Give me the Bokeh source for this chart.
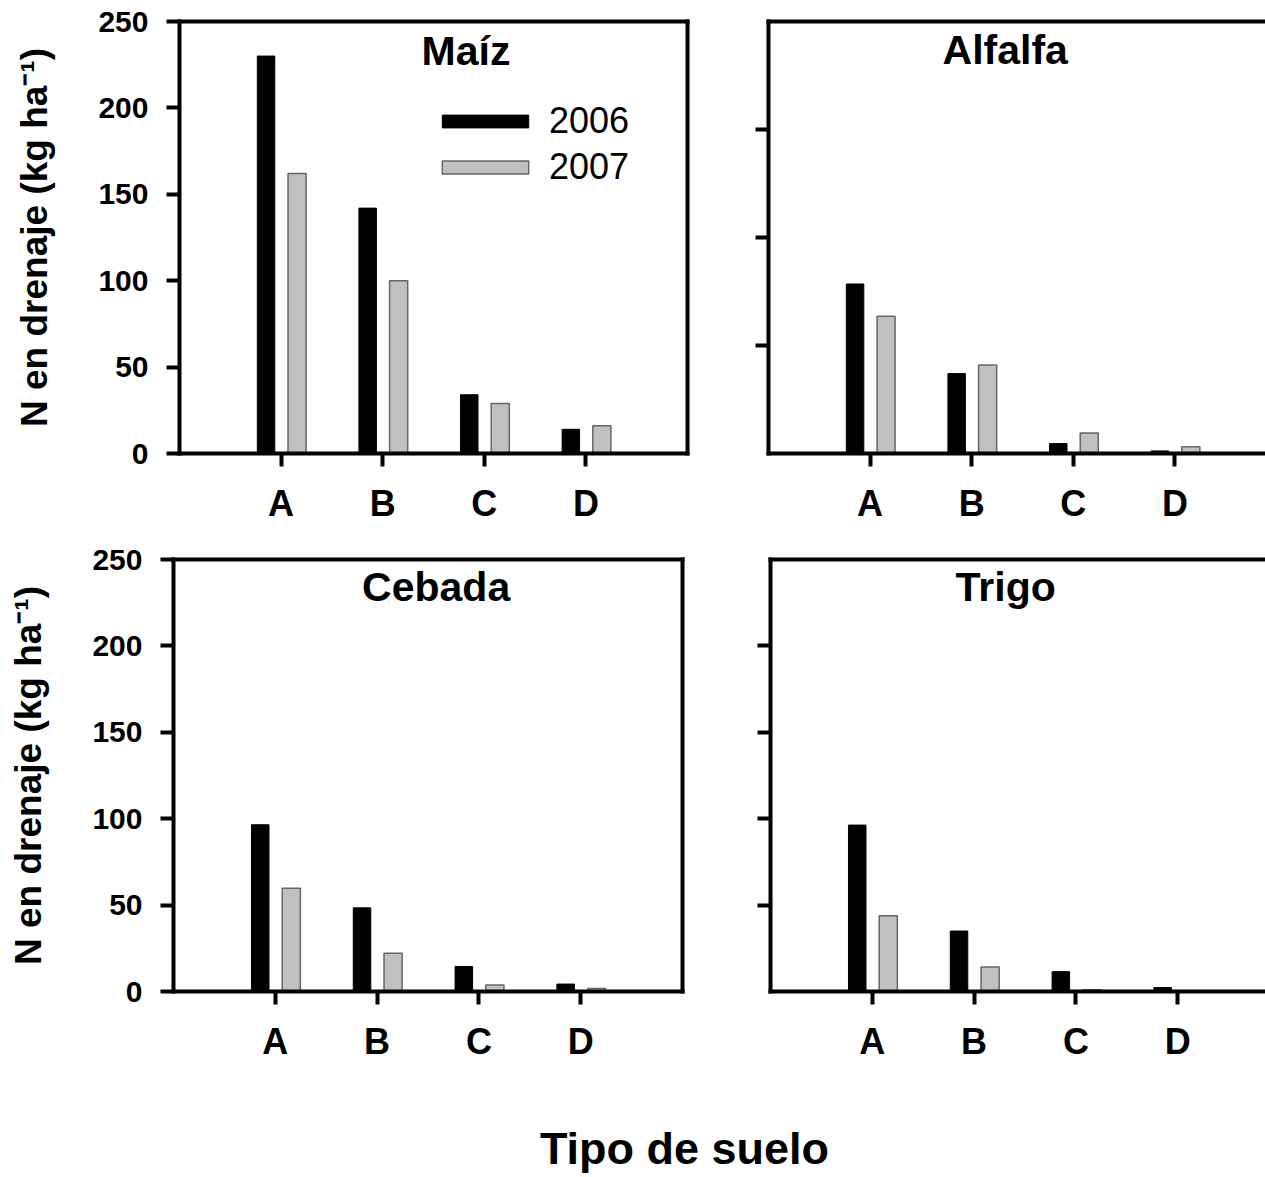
from bokeh.plotting import figure
from bokeh.models import (FixedTicker, LinearAxis, Legend, LegendItem, Label,
                          Range1d, ColumnDataSource)
from bokeh.transform import dodge
from bokeh.layouts import column, row
from bokeh.embed import file_html
from bokeh.resources import INLINE

# ---------------- data ----------------
cats = ["A", "B", "C", "D"]
years = ["2006", "2007"]

maiz_2006 = [230, 142, 34, 14]
maiz_2007 = [162, 100, 29, 16]

alfalfa_2006 = [78.5, 37, 4.6, 1.2]
alfalfa_2007 = [63.5, 41, 9.5, 3.1]

cebada_2006 = [96.5, 48.4, 14.5, 4.3]
cebada_2007 = [59.8, 22.2, 3.7, 1.7]

trigo_2006 = [96.3, 35, 11.5, 2.3]
trigo_2007 = [43.8, 14.2, 1.0, 0.3]

y_ticks_250 = [0, 50, 100, 150, 200, 250]
y_ticks_right_top = [50, 100, 150]
y_ticks_right_bottom = [50, 100, 150, 200]

y_label = "N en drenaje (kg ha⁻¹)"
x_label = "Tipo de suelo"

FONT = "Liberation Sans"
BLACK = "#000000"
GREY = "#c0c0c0"
GREY_LINE = "#666666"
LW = 4


def border_axis():
    return LinearAxis(ticker=FixedTicker(ticks=[]), axis_line_width=LW,
                      axis_line_color=BLACK, axis_line_cap="square",
                      major_tick_line_color=None, minor_tick_line_color=None,
                      major_label_text_font_size="0px")


def panel(title, v06, v07, y_end, y_ticks, show_ylabels, width, height,
          x_end, min_left, min_right, min_top, min_bottom, title_x, title_y,
          right_border, legend=False):
    p = figure(width=width, height=height,
               x_range=Range1d(0, x_end), y_range=Range1d(0, y_end),
               toolbar_location=None, output_backend="svg",
               min_border_left=min_left, min_border_right=min_right,
               min_border_top=min_top, min_border_bottom=min_bottom,
               outline_line_color=None, x_axis_type=None, y_axis_type=None)
    p.background_fill_color = "white"
    p.border_fill_color = "white"

    xpos = [i + 1 for i in range(len(cats))]
    src = ColumnDataSource(dict(x=xpos, cat=cats, v06=v06, v07=v07))
    r1 = p.vbar(x=dodge("x", -0.148, range=p.x_range), top="v06", width=0.172,
                source=src, fill_color=BLACK, line_color=BLACK, line_width=1)
    r2 = p.vbar(x=dodge("x", 0.157, range=p.x_range), top="v07", width=0.178,
                source=src, fill_color=GREY, line_color=GREY_LINE, line_width=1.5)

    yax = LinearAxis(ticker=FixedTicker(ticks=y_ticks), axis_line_width=LW,
                     axis_line_cap="square", axis_line_color=BLACK,
                     major_tick_line_width=LW, major_tick_out=13, major_tick_in=0,
                     major_tick_line_color=BLACK,
                     minor_tick_line_color=None,
                     major_label_text_font=FONT, major_label_text_font_style="bold",
                     major_label_text_color=BLACK,
                     major_label_text_font_size="30px", major_label_standoff=18)
    if show_ylabels:
        yax.axis_label = y_label
        yax.axis_label_text_font = FONT
        yax.axis_label_text_font_style = "bold"
        yax.axis_label_text_color = BLACK
        yax.axis_label_text_font_size = "37px"
        yax.axis_label_standoff = 40
    else:
        yax.major_label_overrides = {t: "" for t in y_ticks}
    p.add_layout(yax, "left")

    xax = LinearAxis(ticker=FixedTicker(ticks=xpos),
                     major_label_overrides={x: c for x, c in zip(xpos, cats)},
                     axis_line_width=LW, axis_line_cap="square", axis_line_color=BLACK,
                     major_tick_line_width=LW, major_tick_out=13, major_tick_in=0,
                     major_tick_line_color=BLACK,
                     minor_tick_line_color=None,
                     major_label_text_font=FONT, major_label_text_font_style="bold",
                     major_label_text_color=BLACK,
                     major_label_text_font_size="36px", major_label_standoff=16)
    p.add_layout(xax, "below")

    p.add_layout(border_axis(), "above")
    if right_border:
        p.add_layout(border_axis(), "right")

    p.add_layout(Label(x=title_x, y=title_y, text=title, text_font=FONT,
                       text_font_style="bold", text_font_size="41px",
                       text_color=BLACK,
                       text_align="center", text_baseline="middle"))

    if legend:
        lg = Legend(items=[LegendItem(label=years[0], renderers=[r1]),
                           LegendItem(label=years[1], renderers=[r2])],
                    location=(252, 265), glyph_width=108, glyph_height=16,
                    label_text_font=FONT, label_text_font_size="36px",
                    label_text_color=BLACK,
                    label_standoff=10, padding=0, margin=0, spacing=3,
                    label_height=43, border_line_color=None,
                    background_fill_alpha=0)
        p.add_layout(lg)
    return p


tl = panel("Maíz", maiz_2006, maiz_2007, 250, y_ticks_250, True,
           730, 540, 5.0, 179, 43, 21, 87, 2.82, 232.9, True, legend=True)
tr = panel("Alfalfa", alfalfa_2006, alfalfa_2007, 200, y_ticks_right_top, False,
           535, 540, 497 / 101.6, 38, 0, 21, 87, 2.33, 187.0, False)
bl = panel("Cebada", cebada_2006, cebada_2007, 250, y_ticks_250, True,
           730, 540, 5.0, 173, 48, 19, 89, 2.58, 233.8, True)
br = panel("Trigo", trigo_2006, trigo_2007, 250, y_ticks_right_bottom, False,
           535, 540, 495 / 101.8, 40, 0, 19, 89, 2.31, 234.0, False)

foot = figure(width=1265, height=97, x_range=Range1d(0, 1265), y_range=Range1d(0, 97),
              toolbar_location=None, output_backend="svg", min_border=0,
              outline_line_color=None, x_axis_type=None, y_axis_type=None)
foot.xgrid.visible = False
foot.ygrid.visible = False
foot.add_layout(Label(x=684, y=29.5, text=x_label, text_font=FONT,
                      text_font_style="bold", text_font_size="45px",
                      text_color=BLACK,
                      text_align="center", text_baseline="middle"))

layout = column(row(tl, tr), row(bl, br), foot)

open("out.html", "w").write(file_html(layout, INLINE, title="N en drenaje"))
